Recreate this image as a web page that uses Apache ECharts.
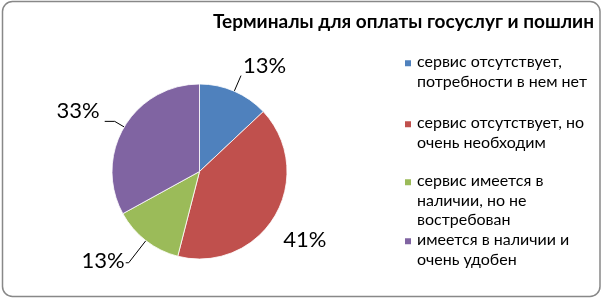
<!DOCTYPE html>
<html>
<head>
<meta charset="utf-8">
<script src="https://cdn.jsdelivr.net/npm/echarts@6/dist/echarts.min.js"></script>
<style>
html,body{margin:0;padding:0;background:#fff;}
#chart{width:604px;height:299px;}
</style>
</head>
<body>
<div id="chart"></div>
<script>
// ---- data ----
var titleText = 'Терминалы для оплаты госуслуг и пошлин';
var categories = [
  'сервис отсутствует, потребности в нем нет',
  'сервис отсутствует, но очень необходим',
  'сервис имеется в наличии, но не востребован',
  'имеется в наличии и очень удобен'
];
var legendLines = [
  ['сервис отсутствует,', 'потребности в нем нет'],
  ['сервис отсутствует, но', 'очень необходим'],
  ['сервис имеется в', 'наличии, но не', 'востребован'],
  ['имеется в наличии и', 'очень удобен']
];
var values = [13, 41, 13, 33];
var colors = ['#4F81BD', '#C0504D', '#9BBB59', '#8064A2'];

// ---- styling (not data) ----
var FONT = 'Lato';
var LH = 19.5;
var legendTops = [51.5, 112.5, 170.5, 229.5];
// shift: vertical offset of label text relative to label line end (via empty line)
var labelTweaks = [
  {length: 17, length2: 0, dist: 2, shift: -10, show: true},
  {length: 4, length2: 0, dist: 5, shift: 22, show: false},
  {length: 28, length2: 3, dist: 1, shift: -1.5, show: true},
  {length: 11, length2: 10, dist: 5, shift: -10.5, show: true}
];

function iconPath(nLines) {
  var H = nLines * LH;
  var top = LH / 2 + 1 - 4;
  return 'path://M0,0h0.01v0.01h-0.01z M0,' + top + 'h8v8h-8z M0,' + H + 'h0.01v-0.01h-0.01z';
}

var pieData = categories.map(function (name, i) {
  var t = labelTweaks[i];
  var lh = Math.max(Math.abs(t.shift) * 2, 1);
  var fmt = t.shift < 0 ? '{c}%\n' : '\n{c}%';
  return {
    name: name,
    value: values[i],
    itemStyle: {color: colors[i]},
    label: {formatter: fmt, lineHeight: lh, distanceToLabelLine: t.dist},
    labelLine: {show: t.show, length: t.length, length2: t.length2}
  };
});

var legends = categories.map(function (name, i) {
  return {
    data: [name],
    left: 403,
    top: legendTops[i],
    orient: 'vertical',
    padding: 0,
    itemWidth: 8,
    itemHeight: legendLines[i].length * LH,
    icon: iconPath(legendLines[i].length),
    selectedMode: false,
    formatter: function () { return legendLines[i].join('\n'); },
    textStyle: {fontFamily: FONT, fontSize: 16, color: '#000', lineHeight: LH}
  };
});

var chart = echarts.init(document.getElementById('chart'), null, {renderer: 'canvas'});
chart.setOption({
  animation: false,
  backgroundColor: '#fff',
  title: {
    text: titleText,
    right: 10,
    top: 12,
    padding: 0,
    textStyle: {fontFamily: FONT, fontWeight: 'bold', fontSize: 19, color: '#000'}
  },
  legend: legends,
  graphic: [{
    type: 'rect',
    shape: {x: 2.5, y: 1.5, width: 597.5, height: 295, r: 10},
    style: {fill: 'none', stroke: '#888', lineWidth: 1.5},
    silent: true
  }],
  series: [{
    type: 'pie',
    center: [199.5, 171.5],
    radius: 87.5,
    startAngle: 90,
    clockwise: true,
    avoidLabelOverlap: false,
    data: pieData,
    itemStyle: {borderColor: '#fff', borderWidth: 0.8},
    label: {
      show: true,
      position: 'outside',
      fontFamily: FONT,
      fontSize: 22,
      color: '#000'
    },
    labelLine: {lineStyle: {color: '#000', width: 1}, smooth: false},
    emphasis: {disabled: true}
  }]
});
</script>
</body>
</html>
